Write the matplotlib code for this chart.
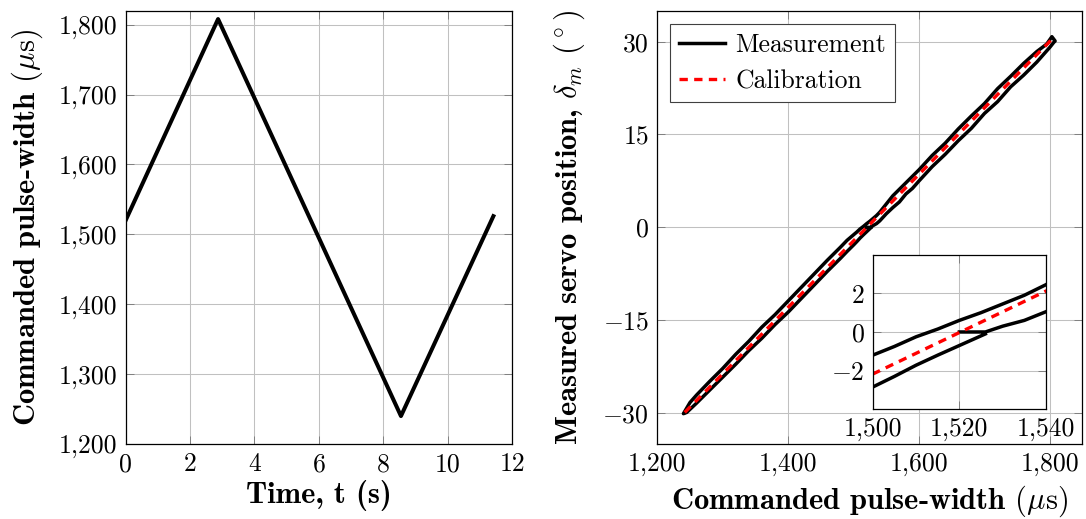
import matplotlib
matplotlib.use('Agg')
import matplotlib.pyplot as plt
from matplotlib.ticker import FuncFormatter

# commanded triangle signal
time_s = [0, 2.87, 8.55, 11.42]
pulse_us = [1520, 1808, 1240, 1526]

# measured servo position, first rise / fall / final rise
rise1_x = [1520, 1526, 1530, 1535, 1540, 1550, 1560, 1570, 1580, 1590, 1600, 1620, 1640,
           1660, 1680, 1700, 1720, 1740, 1760, 1780, 1790, 1800, 1806, 1808]
rise1_y = [0, 0, 0.3, 0.6, 1.05, 2.2, 3.2, 4.1, 5.4, 6.3, 7.5, 9.8, 11.8,
           14.0, 16.0, 18.4, 20.3, 22.7, 24.6, 26.7, 27.9, 29.1, 29.9, 30.1]
fall_x = [1803, 1795, 1780, 1760, 1740, 1720, 1700, 1680, 1660, 1640, 1620, 1600, 1580,
          1560, 1540, 1535, 1530, 1525, 1520, 1515, 1510, 1505, 1500, 1490, 1480, 1460,
          1440, 1420, 1400, 1380, 1360, 1340, 1320, 1300, 1280, 1260, 1250, 1240]
fall_y = [30.8, 29.6, 28.4, 26.5, 24.4, 22.4, 20.0, 18.0, 15.9, 13.6, 11.6, 9.3, 7.2,
          5.1, 2.45, 1.9, 1.45, 1.0, 0.6, 0.15, -0.25, -0.75, -1.2, -2.1, -3.2, -5.3,
          -7.5, -9.7, -11.9, -14.1, -16.1, -18.4, -20.5, -22.8, -24.9, -27.1, -28.3, -30.1]
rise2_x = [1245, 1260, 1280, 1300, 1320, 1340, 1360, 1380, 1400, 1420, 1440, 1460, 1480,
           1490, 1500, 1505, 1510, 1515, 1520, 1526]
rise2_y = [-29.9, -28.4, -26.3, -24.2, -22.1, -19.9, -17.9, -15.7, -13.7, -11.5, -9.3, -7.1, -5.0,
           -3.9, -2.85, -2.3, -1.72, -1.2, -0.7, -0.1]

# calibration line end points
calib_x = [1242, 1806]
calib_y = [-29.9, 30.7]

meas_x = rise1_x + fall_x + rise2_x
meas_y = rise1_y + fall_y + rise2_y

plt.rcParams['font.family'] = 'cmr10'
plt.rcParams['mathtext.fontset'] = 'cm'
plt.rcParams['axes.unicode_minus'] = False

FS = 18.5
LFS = 22


def fmt(v, pos):
    if v < 0:
        return r'$-%d$' % round(abs(v))
    return f'{v:,.0f}'


def style(ax):
    ax.grid(True, color='#c0c0c0', linewidth=0.75)
    ax.set_axisbelow(True)
    ax.tick_params(direction='in', length=5.5, width=0.7, color='#808080',
                   top=True, right=True, labelsize=FS, pad=6)
    for s in ax.spines.values():
        s.set_linewidth(0.9)
    ax.xaxis.set_major_formatter(FuncFormatter(fmt))
    ax.yaxis.set_major_formatter(FuncFormatter(fmt))


fig = plt.figure(figsize=(10.86, 5.19), dpi=100)

# left: command vs time
ax1 = fig.add_axes([0.1157, 0.1445, 0.3558, 0.8349])
style(ax1)
ax1.plot(time_s, pulse_us, color='black', linewidth=2.9)
ax1.set_xlim(0, 12)
ax1.set_ylim(1200, 1820)
ax1.set_xticks(range(0, 13, 2))
ax1.set_yticks(range(1200, 1801, 100))
ax1.set_xlabel('Time, t (s)', fontsize=LFS, fontfamily='cmb10')
ax1.set_ylabel(r'Commanded pulse-width $(\mu\mathrm{s})$', fontsize=LFS, fontfamily='cmb10')
ax1.xaxis.set_label_coords(0.5, -0.136)
ax1.yaxis.set_label_coords(-0.2348, 0.5)
ax1.xaxis.label.set_va('baseline')
ax1.yaxis.label.set_va('baseline')

# right: measured vs commanded
ax2 = fig.add_axes([0.6052, 0.1445, 0.3911, 0.8349])
style(ax2)
ax2.plot(meas_x, meas_y, color='black', linewidth=2.5, label='Measurement')
ax2.plot(calib_x, calib_y, color='red', linewidth=2.4, linestyle=(0, (2.5, 1.9)),
         label='Calibration')
ax2.set_xlim(1200, 1849)
ax2.set_ylim(-35, 35)
ax2.set_xticks([1200, 1400, 1600, 1800])
ax2.set_yticks([-30, -15, 0, 15, 30])
ax2.set_xlabel(r'Commanded pulse-width $(\mu\mathrm{s})$', fontsize=LFS, fontfamily='cmb10')
ax2.set_ylabel(r'Measured servo position, $\delta_m$ $(^\circ)$', fontsize=LFS, fontfamily='cmb10')
ax2.xaxis.set_label_coords(0.5, -0.149)
ax2.yaxis.set_label_coords(-0.190, 0.5)
ax2.xaxis.label.set_va('baseline')
ax2.yaxis.label.set_va('baseline')
leg = ax2.legend(loc='upper left', bbox_to_anchor=(0.03, 0.969), borderaxespad=0,
                 fontsize=18.5, fancybox=False, framealpha=1, edgecolor='#404040',
                 handlelength=1.8, handletextpad=0.4, labelspacing=0.5, borderpad=0.35)
leg.get_frame().set_linewidth(0.8)

# inset zoom around the centre
ax3 = fig.add_axes([0.8036, 0.2114, 0.1596, 0.2979])
style(ax3)
ax3.set_facecolor('white')
ax3.plot(meas_x, meas_y, color='black', linewidth=2.5)
ax3.plot(calib_x, calib_y, color='red', linewidth=2.4, linestyle=(0, (2.5, 1.9)))
ax3.set_xlim(1500, 1540)
ax3.set_ylim(-4, 4)
ax3.set_xticks([1500, 1520, 1540])
ax3.set_yticks([-2, 0, 2])

fig.savefig('out.png', dpi=100)
